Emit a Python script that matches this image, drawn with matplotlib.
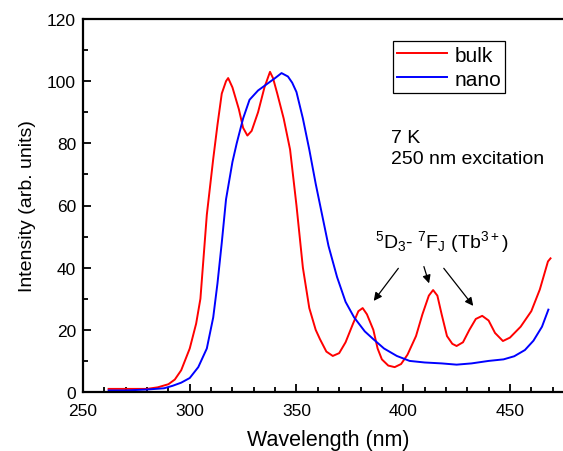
import matplotlib
matplotlib.use("Agg")
import matplotlib.pyplot as plt
from matplotlib.ticker import MultipleLocator

plt.rcParams['font.family'] = ['Liberation Sans', 'DejaVu Sans']
plt.rcParams['mathtext.fontset'] = 'custom'
plt.rcParams['mathtext.rm'] = 'Liberation Sans'
plt.rcParams['mathtext.default'] = 'regular'

bulk_wl = [262, 270, 280, 285, 290, 293, 296, 300, 303, 305, 308, 311, 313, 315, 317, 318,
           320, 323, 325, 327, 329, 332, 335, 337.6, 339, 341, 344, 347, 350, 353, 356, 359,
           361, 364, 367, 370, 373, 376.5, 379, 381, 383, 386, 388, 390, 393, 396, 399, 402,
           404, 406, 409, 412, 414, 416, 418, 420.5, 423, 425, 428, 431, 434, 437, 440, 443,
           446.7, 450, 455, 460, 464, 467.8, 469]
bulk_int = [1, 1, 1, 1.5, 2.5, 4, 7, 14, 22, 30, 57, 75, 86, 96, 100, 101,
            98, 91, 85, 82.5, 84, 90, 98, 103, 101, 96, 88, 78, 60, 40, 27, 20,
            17, 13, 11.6, 12.5, 16, 22, 26, 27, 25, 20, 14, 10.5, 8.5, 8, 9, 12,
            15, 18, 25, 31, 32.8, 31, 25, 18, 15.5, 14.8, 16, 20, 23.5, 24.5, 23, 19,
            16.4, 17.5, 21, 26, 33, 42, 43]

nano_wl = [262, 270, 280, 288, 292, 296, 300, 304, 308, 311, 313, 315, 317, 320, 322, 325,
           328, 332, 336, 340, 343, 346, 348, 350, 353, 356, 359, 362, 365, 369, 373, 377,
           382, 386, 391, 397, 403, 410, 418, 425, 432, 440, 447, 452, 457, 461, 465, 468]
nano_int = [0.5, 0.5, 0.8, 1.2, 2, 3, 4.5, 8, 14, 24, 35, 48, 62, 74, 80, 88,
            94, 97, 99, 101, 102.6, 101.5, 99.5, 96.5, 88, 78, 67, 57, 47, 37, 29, 24,
            19.5, 17, 14, 11.6, 10, 9.5, 9.2, 8.8, 9.2, 10, 10.5, 11.5, 13.5, 16.5, 21, 26.5]

fig = plt.figure(figsize=(5.63, 4.52), dpi=100)
ax = fig.add_axes([83/563, 59/452, 491/563, 373/452])

ax.plot(bulk_wl, bulk_int, color='#ff0000', lw=1.4, label='bulk')
ax.plot(nano_wl, nano_int, color='#0000ff', lw=1.4, label='nano')

ax.set_xlim(250, 480)
ax.set_ylim(0, 120)
ax.xaxis.set_major_locator(MultipleLocator(50))
ax.xaxis.set_minor_locator(MultipleLocator(10))
ax.yaxis.set_major_locator(MultipleLocator(20))
ax.yaxis.set_minor_locator(MultipleLocator(10))
ax.tick_params(which='both', direction='in', top=False, right=False, labelsize=12.5, width=1.3)
ax.tick_params(axis='x', which='major', length=6, pad=8)
ax.tick_params(axis='y', which='major', length=6, pad=5)
ax.tick_params(which='minor', length=3.5)
for s in ax.spines.values():
    s.set_linewidth(1.6)

ax.set_xlabel('Wavelength (nm)', fontsize=15.5, labelpad=8)
ax.set_ylabel('Intensity (arb. units)', fontsize=14, labelpad=8)

leg = ax.legend(loc='upper left', bbox_to_anchor=(0.631, 0.94), borderaxespad=0,
                fancybox=False, edgecolor='black', framealpha=1, fontsize=15,
                handlelength=2.4, handletextpad=0.35, borderpad=0.2, labelspacing=0.25)
leg.get_frame().set_linewidth(0.9)

ax.text(394.3, 84.5, '7 K\n250 nm excitation', fontsize=14, va='top', ha='left', linespacing=1.25)

ax.text(418, 48.6, r'$^{5}$D$_{3}$- $^{7}$F$_{J}$ (Tb$^{3+}$)', fontsize=14, ha='center', va='center')

arrows = [((398.5, 40.5), (385.4, 28.6)),
          ((409.3, 41.2), (412.5, 34.1)),
          ((418.2, 40.5), (433.6, 27.0))]
for tail, head in arrows:
    ax.annotate('', xy=head, xytext=tail,
                arrowprops=dict(arrowstyle='-|>', color='black', lw=0.9, mutation_scale=12))

fig.savefig('out.png', dpi=100)
